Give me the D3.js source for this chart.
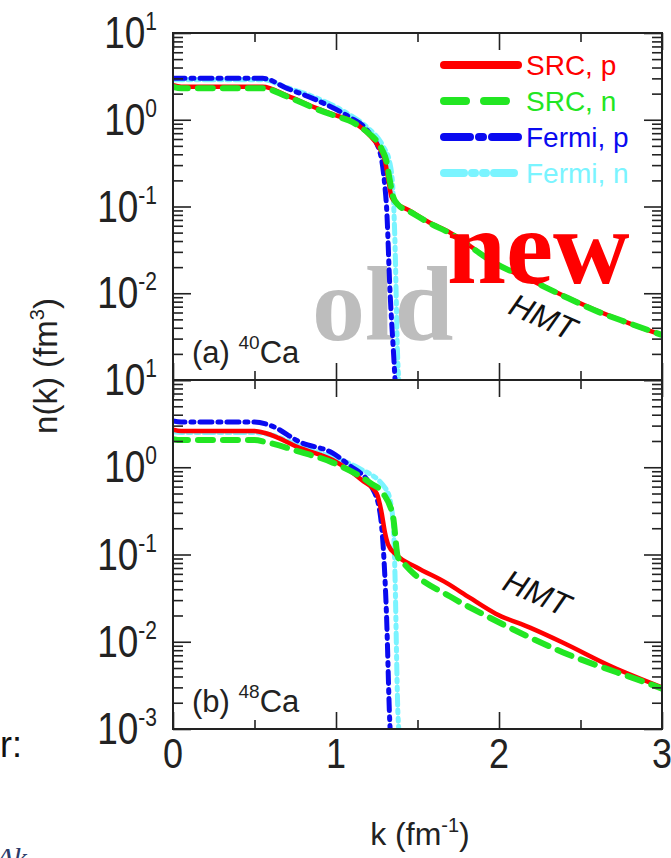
<!DOCTYPE html>
<html>
<head>
<meta charset="utf-8">
<script src="https://cdn.jsdelivr.net/npm/d3@7/dist/d3.min.js"></script>
<style>
  body { margin: 0; background: #fff; }
  svg { display: block; }
</style>
</head>
<body>
<script>
// ---- data ----
// panel (a) 40Ca
var kSrcPA = [0, 0.05, 0.55, 0.7, 0.88, 1.0, 1.08, 1.16, 1.2, 1.27, 1.3, 1.32, 1.34, 1.37, 1.45, 1.57, 1.7, 1.98, 2.2, 2.39, 2.61, 2.8, 3.0];
var nSrcPA = [2.5, 2.4, 2.4, 1.9, 1.36, 1.12, 1.0, 0.8, 0.68, 0.46, 0.34, 0.21, 0.13, 0.11, 0.09, 0.066, 0.05, 0.022, 0.014, 0.0095, 0.0062, 0.0045, 0.0033];
var kSrcNA = [0, 0.05, 0.55, 0.7, 0.88, 1.0, 1.08, 1.16, 1.2, 1.28, 1.31, 1.33, 1.35, 1.38, 1.45, 1.57, 1.7, 1.98, 2.2, 2.39, 2.61, 2.8, 3.0];
var nSrcNA = [2.4, 2.3, 2.3, 1.85, 1.33, 1.1, 0.98, 0.8, 0.7, 0.46, 0.33, 0.2, 0.13, 0.105, 0.088, 0.065, 0.049, 0.022, 0.014, 0.0094, 0.0061, 0.0045, 0.0033];
var kFermiPA = [0, 0.55, 0.7, 0.88, 1.08, 1.19, 1.27, 1.3, 1.31, 1.33, 1.36, 1.365];
var nFermiPA = [3.0, 3.0, 2.3, 1.69, 1.08, 0.76, 0.42, 0.17, 0.1, 0.012, 0.0012, 0.0008];
var kFermiNA = [0, 0.55, 0.7, 0.88, 1.08, 1.19, 1.29, 1.33, 1.35, 1.36, 1.38, 1.39];
var nFermiNA = [2.9, 2.9, 2.35, 1.78, 1.15, 0.82, 0.49, 0.32, 0.15, 0.05, 0.0015, 0.0008];

// panel (b) 48Ca
var kSrcPB = [0, 0.05, 0.5, 0.57, 0.78, 0.98, 1.16, 1.25, 1.28, 1.3, 1.32, 1.37, 1.49, 1.68, 1.82, 1.98, 2.19, 2.39, 2.69, 3.0];
var nSrcPB = [2.7, 2.6, 2.6, 2.45, 1.66, 1.21, 0.71, 0.5, 0.3, 0.18, 0.13, 0.099, 0.072, 0.047, 0.032, 0.021, 0.0145, 0.0098, 0.0052, 0.003];
var kSrcNB = [0, 0.05, 0.5, 0.57, 0.78, 0.98, 1.21, 1.29, 1.35, 1.38, 1.4, 1.47, 1.7, 1.94, 2.39, 2.94, 3.0];
var nSrcNB = [2.1, 2.05, 2.05, 1.94, 1.5, 1.13, 0.66, 0.5, 0.27, 0.093, 0.085, 0.062, 0.033, 0.019, 0.0076, 0.0032, 0.0029];
var kFermiPB = [0, 0.05, 0.5, 0.6, 0.78, 0.98, 1.08, 1.22, 1.27, 1.29, 1.31, 1.33, 1.335];
var nFermiPB = [3.4, 3.3, 3.3, 3.0, 1.94, 1.45, 1.06, 0.59, 0.3, 0.12, 0.02, 0.0012, 0.0008];
var kFermiNB = [0, 0.05, 0.5, 0.6, 0.78, 0.98, 1.13, 1.31, 1.35, 1.36, 1.38, 1.39];
var nFermiNB = [2.55, 2.5, 2.5, 2.35, 1.75, 1.3, 1.0, 0.55, 0.25, 0.08, 0.0015, 0.0008];

var seriesNames = ["SRC, p", "SRC, n", "Fermi, p", "Fermi, n"];
var seriesColors = ["#ff0000", "#22e622", "#0a0af0", "#7af4ff"];

var kMajor = [0, 1, 2, 3];
var kMinor = [0.5, 1.5, 2.5];
var tickValsA = [10, 1, 0.1, 0.01, 0.001];
var tickExpA = ["1", "0", "-1", "-2", "1"];
var tickValsB = [1, 0.1, 0.01, 0.001];
var tickExpB = ["0", "-1", "-2", "-3"];

// ---- layout ----
var W = 671, H = 858;
var left = 173, right = 662;

var svg = d3.select("body").append("svg").attr("width", W).attr("height", H)
  .style("font-family", "'Liberation Sans', Arial, sans-serif");

var x = d3.scaleLinear().domain([0, 3]).range([left, right]);

var panels = [
  { id: "a", top: 33, bottom: 380, iso: "40", letter: "(a) ",
    k: [kSrcPA, kSrcNA, kFermiPA, kFermiNA], n: [nSrcPA, nSrcNA, nFermiPA, nFermiNA],
    hmt: [543, 317] },
  { id: "b", top: 380, bottom: 729, iso: "48", letter: "(b) ",
    k: [kSrcPB, kSrcNB, kFermiPB, kFermiNB], n: [nSrcPB, nSrcNB, nFermiPB, nFermiNB],
    hmt: [537, 593] }
];

// minor log ticks
var minorVals = [];
[-3, -2, -1, 0].forEach(function(e) {
  for (var m = 2; m <= 9; m++) minorVals.push(m * Math.pow(10, e));
});

var dashes = [null, "15,10", "12,6,3,6", "10,5,3,5,3,5"];
var widths = [4.5, 6, 5, 5];
var drawOrder = [3, 2, 0, 1];

// "old" sits under the curves
svg.append("text").attr("x", 312).attr("y", 340)
  .style("font-family", "'Liberation Serif', 'Times New Roman', serif")
  .style("font-weight", "bold").style("font-size", "106px")
  .attr("fill", "#bdbdbd").text("old");

panels.forEach(function(p) {
  var y = d3.scaleLog().domain([0.001, 10]).range([p.bottom, p.top]);
  var g = svg.append("g");

  g.append("clipPath").attr("id", "clip" + p.id)
    .append("rect").attr("x", left).attr("y", p.top)
    .attr("width", right - left).attr("height", p.bottom - p.top);

  var line = d3.line()
    .x(function(d) { return x(d[0]); })
    .y(function(d) { return y(d[1]); })
    .curve(d3.curveMonotoneX);

  var curves = g.append("g").attr("clip-path", "url(#clip" + p.id + ")");
  drawOrder.forEach(function(i) {
    var pts = p.k[i].map(function(k, j) { return [k, p.n[i][j]]; });
    curves.append("path").datum(pts)
      .attr("d", line)
      .attr("fill", "none")
      .attr("stroke", seriesColors[i])
      .attr("stroke-width", widths[i])
      .attr("stroke-linecap", "round")
      .attr("stroke-dasharray", dashes[i]);
  });

  // axes, ticks pointing inward
  function addAxis(axis, tx, ty) {
    var a = g.append("g").attr("transform", "translate(" + tx + "," + ty + ")").call(axis);
    a.select(".domain").remove();
    a.selectAll("line").attr("stroke", "#222").attr("stroke-width", 1.6);
    a.selectAll("text").remove();
  }
  addAxis(d3.axisLeft(y).tickValues(tickValsA).tickSize(-18), left, 0);
  addAxis(d3.axisLeft(y).tickValues(minorVals).tickSize(-10), left, 0);
  addAxis(d3.axisRight(y).tickValues(tickValsA).tickSize(-18), right, 0);
  addAxis(d3.axisRight(y).tickValues(minorVals).tickSize(-10), right, 0);
  addAxis(d3.axisBottom(x).tickValues(kMajor).tickSize(-17), 0, p.bottom);
  addAxis(d3.axisBottom(x).tickValues(kMinor).tickSize(-9), 0, p.bottom);
  addAxis(d3.axisTop(x).tickValues(kMajor).tickSize(-17), 0, p.top);
  addAxis(d3.axisTop(x).tickValues(kMinor).tickSize(-9), 0, p.top);

  g.append("rect").attr("x", left).attr("y", p.top)
    .attr("width", right - left).attr("height", p.bottom - p.top)
    .attr("fill", "none").attr("stroke", "#222").attr("stroke-width", 2);

  // y tick labels 10^n
  var vals = p.id === "a" ? tickValsA : tickValsB;
  var exps = p.id === "a" ? tickExpA : tickExpB;
  vals.forEach(function(v, i) {
    var t = svg.append("g")
      .attr("transform", "translate(157," + (y(v) + 15) + ") scale(1,1.2)")
      .append("text").attr("text-anchor", "end").attr("fill", "#222");
    t.append("tspan").style("font-size", "37px").text("10");
    t.append("tspan").style("font-size", "21px").attr("dy", -15).text(exps[i]);
  });

  // panel tag
  var tag = g.append("text").attr("x", 192).attr("y", p.bottom - 17)
    .attr("fill", "#222").style("font-size", "31px");
  tag.append("tspan").text(p.letter);
  tag.append("tspan").style("font-size", "19px").attr("dy", -14).text(p.iso);
  tag.append("tspan").attr("dy", 14).text("Ca");

  g.append("text")
    .attr("transform", "translate(" + p.hmt[0] + "," + p.hmt[1] + ") rotate(24)")
    .attr("text-anchor", "middle").attr("dy", 11)
    .style("font-size", "32px").style("font-style", "italic")
    .attr("fill", "#111").text("HMT");
});

// legend in panel (a)
var legend = svg.append("g");
var legDash = [null, "22,18", "26,9,4,9", "20,8,3,8,3,8"];
seriesNames.forEach(function(name, i) {
  var ly = 65 + i * 36;
  legend.append("line").attr("x1", 444).attr("x2", 518).attr("y1", ly).attr("y2", ly)
    .attr("stroke", seriesColors[i]).attr("stroke-width", 8)
    .attr("stroke-linecap", "round").attr("stroke-dasharray", legDash[i]);
  legend.append("text").attr("x", 526).attr("y", ly + 10)
    .style("font-size", "28px").attr("fill", seriesColors[i]).text(name);
});

// x tick labels
kMajor.forEach(function(k) {
  svg.append("g").attr("transform", "translate(" + x(k) + ",768) scale(1,1.2)")
    .append("text").attr("text-anchor", "middle").attr("fill", "#222")
    .style("font-size", "36px").text(k);
});

// axis titles
var yt = svg.append("text")
  .attr("transform", "translate(57,366) rotate(-90)")
  .attr("text-anchor", "middle").attr("fill", "#222").style("font-size", "33px");
yt.append("tspan").text("n(k) (fm");
yt.append("tspan").style("font-size", "20px").attr("dy", -13).text("3");
yt.append("tspan").attr("dy", 13).text(")");

var xt = svg.append("text").attr("x", 420).attr("y", 845)
  .attr("text-anchor", "middle").attr("fill", "#222").style("font-size", "32px");
xt.append("tspan").text("k (fm");
xt.append("tspan").style("font-size", "20px").attr("dy", -13).text("-1");
xt.append("tspan").attr("dy", 13).text(")");

// stray slide text around the figure
svg.append("text").attr("x", 0).attr("y", 757).style("font-size", "36px")
  .attr("fill", "#111").text("r:");
svg.append("text").attr("x", -4).attr("y", 868)
  .style("font-family", "'Liberation Serif', serif").style("font-style", "italic")
  .style("font-size", "30px").attr("fill", "#2a3a6a").text("\u0394k");

// "new" on top of the curves
svg.append("text").attr("x", 447).attr("y", 283)
  .style("font-family", "'Liberation Serif', 'Times New Roman', serif")
  .style("font-weight", "bold").style("font-size", "106px")
  .attr("fill", "#ff0000").text("new");
</script>
</body>
</html>
